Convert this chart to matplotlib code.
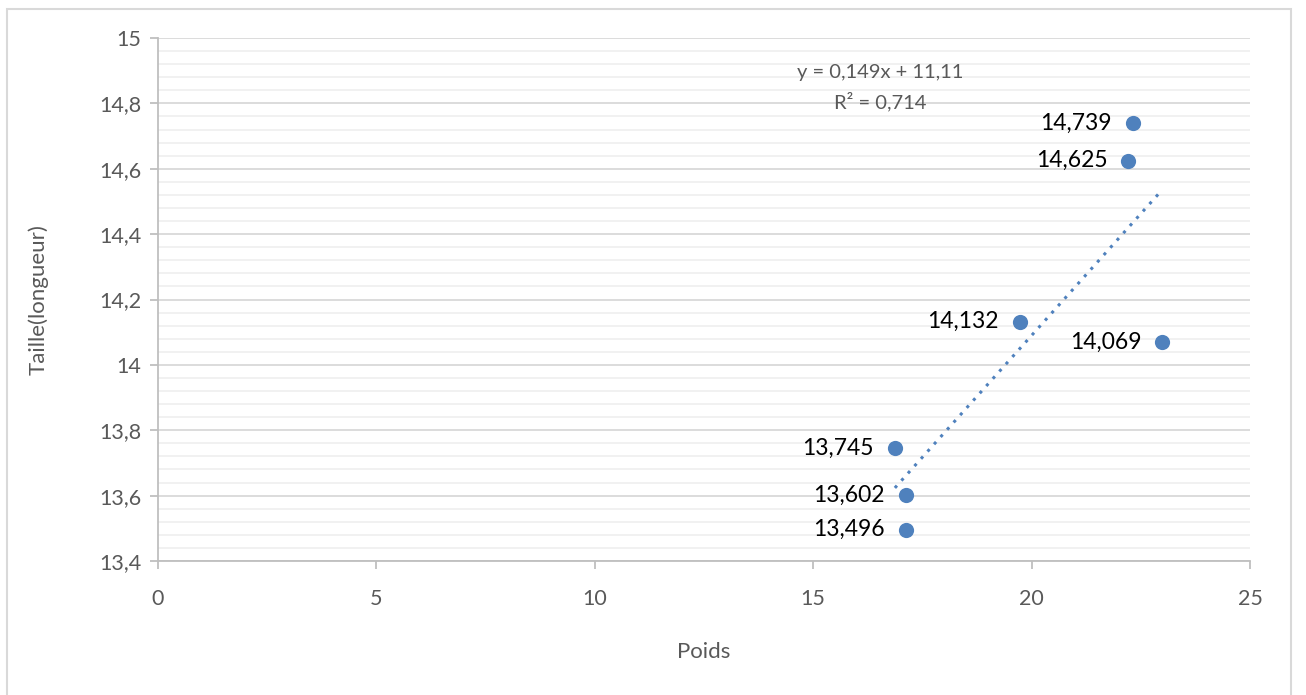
import matplotlib.pyplot as plt
from matplotlib.patches import Rectangle
from matplotlib.ticker import MultipleLocator, FuncFormatter
import numpy as np

# Data
poids = [22.32, 22.21, 19.73, 22.99, 16.87, 17.12, 17.12]
taille = [14.739, 14.625, 14.132, 14.069, 13.745, 13.602, 13.496]
labels = ["14,739", "14,625", "14,132", "14,069", "13,745", "13,602", "13,496"]

# Trend line coefficients as displayed
slope = 0.149
intercept = 11.11
r2 = 0.714

plt.rcParams['font.family'] = ['Lato', 'DejaVu Sans']

fig = plt.figure(figsize=(13.06, 6.95), dpi=100)
ax = fig.add_axes([158 / 1306, 1 - 561 / 695, (1250 - 158) / 1306, (561 - 38) / 695])

# outer chart border
fig.patches.append(Rectangle((7 / 1306, -0.01), (1291 - 7) / 1306, 1 - 9 / 695 + 0.01,
                             transform=fig.transFigure, fill=False,
                             edgecolor='#d9d9d9', linewidth=1.5))

blue = '#4f81bd'
ax.scatter(poids, taille, s=120, color=blue, zorder=3, linewidths=0)

for x, y, lab in zip(poids, taille, labels):
    ax.annotate(lab, (x, y), xytext=(-15, 0), textcoords='offset points',
                ha='right', va='center', fontsize=16.5, color='black', zorder=4)

# linear trend line over the data range
xs = np.array([min(poids), max(poids)])
ax.plot(xs, slope * xs + intercept, linestyle=(0, (1, 2.2)), color=blue,
        linewidth=2.2, zorder=2)

def fr(v):
    return str(v).replace('.', ',')

ax.text(16.53, 14.893, f"y = {fr(slope)}x + {fr(intercept)}", ha='center',
        va='center', fontsize=14.5, color='#595959')
ax.text(16.53, 14.807, f"R² = {fr(r2)}", ha='center', va='center',
        fontsize=14.5, color='#595959')

ax.set_xlim(0, 25)
ax.set_ylim(13.4, 15)
ax.xaxis.set_major_locator(MultipleLocator(5))
ax.yaxis.set_major_locator(MultipleLocator(0.2))
ax.yaxis.set_minor_locator(MultipleLocator(0.04))

ax.xaxis.set_major_formatter(FuncFormatter(lambda v, p: f"{v:g}"))
ax.yaxis.set_major_formatter(FuncFormatter(lambda v, p: f"{round(v, 1):g}".replace('.', ',')))

ax.grid(which='major', axis='y', color='#d9d9d9', linewidth=1.3)
ax.grid(which='minor', axis='y', color='#f0f0f0', linewidth=1.3)
ax.set_axisbelow(True)

for s in ['top', 'right']:
    ax.spines[s].set_visible(False)
for s in ['left', 'bottom']:
    ax.spines[s].set_color('#bfbfbf')
    ax.spines[s].set_linewidth(1.3)

ax.tick_params(axis='both', which='major', direction='out', length=6,
               color='#bfbfbf', width=1.3, labelsize=15.5, labelcolor='#595959')
ax.tick_params(axis='x', pad=14)
ax.tick_params(axis='y', pad=6)
ax.tick_params(axis='y', which='minor', length=0)

ax.set_xlabel("Poids", fontsize=16, color='#595959', labelpad=24)
ax.set_ylabel("Taille(longueur)", fontsize=16, color='#595959', labelpad=36)

fig.savefig("out.png", dpi=100)
